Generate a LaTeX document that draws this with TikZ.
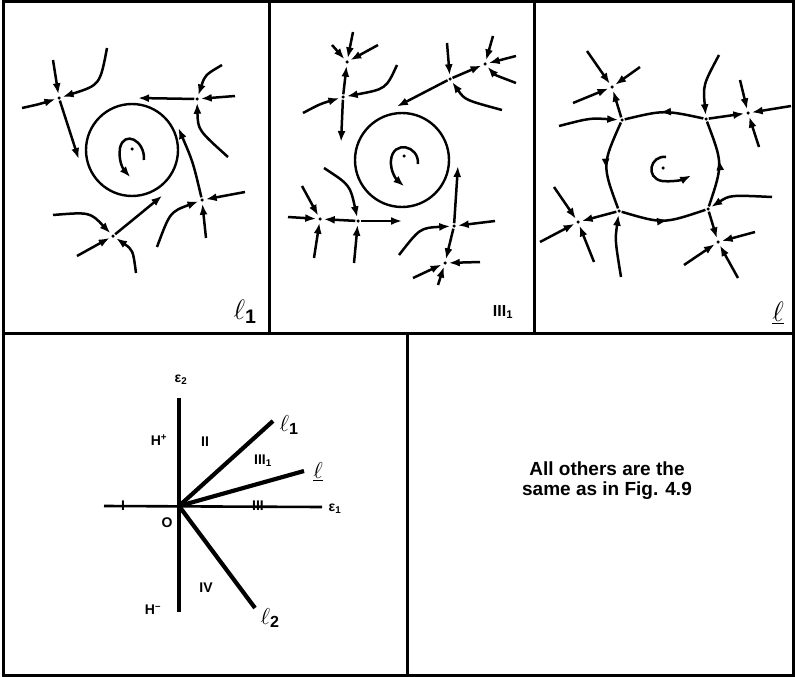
\RequirePackage{fix-cm}
\documentclass[tikz,border=0pt]{standalone}
\usepackage{fontspec}
\setmainfont{Liberation Sans}
\usetikzlibrary{arrows.meta, decorations.markings}

\begin{document}
\begin{tikzpicture}[
  x=1pt, y=-1pt,
  frame/.style={line width=3pt},
  traj/.style={line width=2.5pt, shorten >=1pt, -{Latex[length=11pt,width=8pt]}},
  orbit/.style={line width=2.4pt},
  midarr/.style={line width=2.5pt,
    decoration={markings, mark=at position 0.55 with {\arrow{Latex[length=11pt,width=8pt]}}},
    postaction={decorate}},
  fixpt/.style={circle, fill, inner sep=0pt, minimum size=3.5pt, outer sep=1pt},
  lab/.style={font=\bfseries\fontsize{14}{16}\selectfont, inner sep=1pt},
  bigl/.style={font=\fontsize{28}{32}\selectfont, inner sep=0pt},
  diagl/.style={font=\fontsize{23}{26}\selectfont, inner sep=0pt},
  thickax/.style={line width=4.2pt},
]
  \useasboundingbox (0,0) rectangle (795,677);

  % panel frames
  \draw[frame] (3,2) rectangle (793,675);
  \draw[frame] (269,2) -- (269,333);
  \draw[frame] (534,2) -- (534,333);
  \draw[frame] (3,333) -- (793,333);
  \draw[frame] (407,333) -- (407,675);

  % panel l1
  \node[fixpt] (c1) at (132,149) {};
  \node[fixpt] (s1) at (59,98) {};
  \node[fixpt] (s2) at (197,99) {};
  \node[fixpt] (s3) at (202,200) {};
  \node[fixpt] (s4) at (113,236) {};
  \draw[orbit] (132,150) circle[radius=46pt];
  \draw[traj] (144,160) .. controls (145,140) and (124,130) .. (120,148)
              .. controls (118,162) and (124,170) .. (131,178);
  \draw[traj] (53,60) -- (s1);
  \draw[traj] (107,48) .. controls (100,85) .. (s1);
  \draw[traj] (22,108) .. controls (40,104) .. (s1);
  \draw[traj] (s1) -- (79,160);
  \draw[traj] (222,65) .. controls (205,75) .. (s2);
  \draw[traj] (235,96) -- (s2);
  \draw[traj] (228,157) .. controls (198,130) .. (s2);
  \draw[traj] (s2) -- (137,98);
  \draw[traj] (245,192) -- (s3);
  \draw[traj] (206,238) -- (s3);
  \draw[traj] (157,247) .. controls (170,212) .. (s3);
  \draw[traj] (s3) .. controls (193,162) .. (178,127);
  \draw[traj] (53,215) .. controls (90,212) .. (s4);
  \draw[traj] (77,256) -- (s4);
  \draw[traj] (136,273) .. controls (133,250) .. (s4);
  \draw[traj] (s4) .. controls (140,214) .. (163,195);
  \node[bigl] (lab1) at (245,312) {$\ell$\textsubscript{\bfseries 1}};

  % panel III1
  \node[fixpt] (c2) at (404,156) {};
  \node[fixpt] (na) at (347,62) {};
  \node[fixpt] (sb) at (343,97) {};
  \node[fixpt] (sc) at (450,79) {};
  \node[fixpt] (nd) at (485,64) {};
  \node[fixpt] (se) at (358,221) {};
  \node[fixpt] (nf) at (320,219) {};
  \node[fixpt] (sg) at (454,226) {};
  \node[fixpt] (nh) at (445,263) {};
  \draw[orbit] (402,160) circle[radius=47pt];
  \draw[traj] (418,164) .. controls (419,145) and (393,140) .. (391,160)
              .. controls (390,172) and (397,180) .. (405,187);
  \draw[traj] (353,32) -- (na);
  \draw[traj] (332,45) -- (na);
  \draw[traj] (378,45) -- (na);
  \draw[traj] (sb) -- (na);
  \draw[traj] (397,65) .. controls (386,89) .. (sb);
  \draw[traj] (303,113) .. controls (320,104) .. (sb);
  \draw[traj] (sb) -- (341,143);
  \draw[traj] (447,43) -- (sc);
  \draw[traj] (502,110) .. controls (465,100) .. (sc);
  \draw[traj] (sc) -- (396,107);
  \draw[traj] (sc) -- (nd);
  \draw[traj] (493,36) -- (nd);
  \draw[traj] (516,56) -- (nd);
  \draw[traj] (516,83) .. controls (495,75) .. (nd);
  \draw[traj] (324,168) .. controls (350,185) .. (se);
  \draw[traj] (354,263) -- (se);
  \draw[traj] (se) -- (403,221);
  \draw[traj] (se) -- (nf);
  \draw[traj] (288,217) -- (nf);
  \draw[traj] (302,186) -- (nf);
  \draw[traj] (314,258) -- (nf);
  \draw[traj] (495,221) -- (sg);
  \draw[traj] (399,255) .. controls (420,228) .. (sg);
  \draw[traj] (sg) -- (458,165);
  \draw[traj] (sg) -- (nh);
  \draw[traj] (480,262) -- (nh);
  \draw[traj] (413,278) -- (nh);
  \draw[traj] (438,285) -- (nh);
  \node[lab, font=\bfseries\fontsize{16}{18}\selectfont] (lab2) at (503,312) {III\textsubscript{1}};

  % panel l
  \node[fixpt] (c3) at (663,168) {};
  \node[fixpt] (p1) at (622,120) {};
  \node[fixpt] (p2) at (706,119) {};
  \node[fixpt] (p3) at (708,209) {};
  \node[fixpt] (p4) at (619,211) {};
  \node[fixpt] (n1) at (612,87) {};
  \node[fixpt] (n2) at (748,113) {};
  \node[fixpt] (n3) at (718,242) {};
  \node[fixpt] (n4) at (578,222) {};
  \draw[traj] (666,157) .. controls (650,155) and (645,178) .. (662,181)
              .. controls (672,182) and (682,180) .. (692,175);
  \draw[midarr] (p2) .. controls (664,110) .. (p1);
  \draw[midarr] (p1) .. controls (602,165) .. (p4);
  \draw[midarr] (p4) .. controls (663,224) .. (p3);
  \draw[midarr] (p3) .. controls (723,164) .. (p2);
  \draw[traj] (559,126) .. controls (590,118) .. (p1);
  \draw[traj] (p1) -- (n1);
  \draw[traj] (587,51) -- (n1);
  \draw[traj] (640,67) -- (n1);
  \draw[traj] (573,103) -- (n1);
  \draw[traj] (719,55) .. controls (703,85) .. (p2);
  \draw[traj] (p2) -- (n2);
  \draw[traj] (740,80) -- (n2);
  \draw[traj] (791,106) -- (n2);
  \draw[traj] (759,147) -- (n2);
  \draw[traj] (772,197) .. controls (730,195) .. (p3);
  \draw[traj] (p3) -- (n3);
  \draw[traj] (755,232) -- (n3);
  \draw[traj] (684,265) -- (n3);
  \draw[traj] (738,278) -- (n3);
  \draw[traj] (621,277) .. controls (615,240) .. (p4);
  \draw[traj] (p4) -- (n4);
  \draw[traj] (554,187) -- (n4);
  \draw[traj] (540,242) -- (n4);
  \draw[traj] (594,262) -- (n4);
  \node[bigl] (lab3) at (778,313) {$\underline{\ell}$};

  % bifurcation diagram
  \coordinate (o) at (179,506);
  \coordinate (e2) at (179,398);
  \coordinate (hm) at (179,612);
  \coordinate (west) at (104,506);
  \coordinate (e1) at (322,507);
  \coordinate (l1end) at (273,421);
  \coordinate (lend) at (304,471);
  \coordinate (l2end) at (255,608);
  \draw[thickax] (e2) -- (hm);
  \draw[line width=2.6pt] (west) -- (e1);
  \draw[thickax] (o) -- (l1end);
  \draw[thickax] (o) -- (lend);
  \draw[thickax] (o) -- (l2end);
  \node[lab] (ieps2) at (181,380) {ε\textsubscript{2}};
  \node[lab] (ieps1) at (335,509) {ε\textsubscript{1}};
  \node[lab] (ri) at (123,506) {I};
  \node[lab] (riii) at (258,506) {III};
  \node[lab] (ro) at (167,523) {O};
  \node[lab] (hp) at (159,440) {H\textsuperscript{+}};
  \node[lab] (hn) at (153,610) {H\textsuperscript{--}};
  \node[lab] (rii) at (205,442) {II};
  \node[lab] (riii1) at (263,461) {III\textsubscript{1}};
  \node[lab] (riv) at (206,588) {IV};
  \node[diagl] (dl1) at (289,425) {$\ell$\textsubscript{\bfseries 1}};
  \node[diagl] (dl) at (318,472) {$\underline{\ell}$};
  \node[diagl] (dl2) at (270,618) {$\ell$\textsubscript{\bfseries 2}};

  % note
  \node[font=\bfseries\fontsize{19}{20}\selectfont, align=center] (note) at (607,481)
    {All others are the\\same as in Fig. 4.9};
\end{tikzpicture}
\end{document}
